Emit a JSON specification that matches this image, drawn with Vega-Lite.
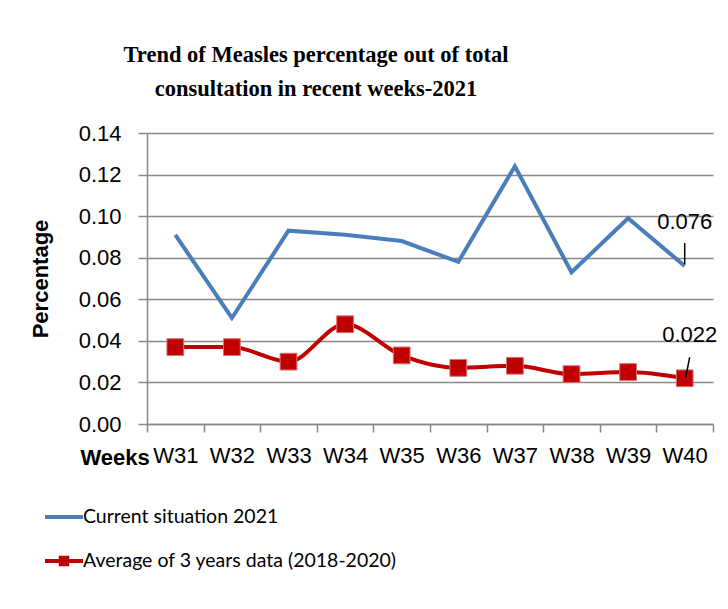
{
  "$schema": "https://vega.github.io/schema/vega-lite/v6.json",
  "autosize": "none",
  "width": 566,
  "height": 291,
  "padding": {"left": 147, "top": 133, "right": 15, "bottom": 185},
  "background": "white",
  "title": {
    "text": ["Trend of Measles percentage out of total", "consultation in recent weeks-2021"],
    "font": "Liberation Serif",
    "fontWeight": "bold",
    "fontSize": 22.5,
    "lineHeight": 34,
    "color": "#000000",
    "anchor": "middle",
    "frame": "group",
    "dx": -114,
    "offset": 22
  },
  "data": {
    "values": [
      {"week": "W31", "series": "Current situation 2021", "value": 0.091},
      {"week": "W32", "series": "Current situation 2021", "value": 0.051},
      {"week": "W33", "series": "Current situation 2021", "value": 0.093},
      {"week": "W34", "series": "Current situation 2021", "value": 0.091},
      {"week": "W35", "series": "Current situation 2021", "value": 0.088},
      {"week": "W36", "series": "Current situation 2021", "value": 0.078},
      {"week": "W37", "series": "Current situation 2021", "value": 0.124},
      {"week": "W38", "series": "Current situation 2021", "value": 0.073},
      {"week": "W39", "series": "Current situation 2021", "value": 0.099},
      {"week": "W40", "series": "Current situation 2021", "value": 0.076},
      {"week": "W31", "series": "Average of 3 years data (2018-2020)", "value": 0.037},
      {"week": "W32", "series": "Average of 3 years data (2018-2020)", "value": 0.037},
      {"week": "W33", "series": "Average of 3 years data (2018-2020)", "value": 0.030},
      {"week": "W34", "series": "Average of 3 years data (2018-2020)", "value": 0.048},
      {"week": "W35", "series": "Average of 3 years data (2018-2020)", "value": 0.033},
      {"week": "W36", "series": "Average of 3 years data (2018-2020)", "value": 0.027},
      {"week": "W37", "series": "Average of 3 years data (2018-2020)", "value": 0.028},
      {"week": "W38", "series": "Average of 3 years data (2018-2020)", "value": 0.024},
      {"week": "W39", "series": "Average of 3 years data (2018-2020)", "value": 0.025},
      {"week": "W40", "series": "Average of 3 years data (2018-2020)", "value": 0.022}
    ]
  },
  "encoding": {
    "x": {
      "field": "week",
      "type": "nominal",
      "scale": {"paddingInner": 0, "paddingOuter": 0},
      "axis": {
        "title": "Weeks",
        "titleFont": "Liberation Sans",
        "titleFontWeight": "bold",
        "titleFontSize": 22,
        "titleColor": "#000000",
        "titleAnchor": "start",
        "titleAlign": "left",
        "titleBaseline": "alphabetic",
        "titleX": -67,
        "titleY": 40,
        "labelAngle": 0,
        "labelFont": "Liberation Sans",
        "labelFontSize": 22,
        "labelColor": "#000000",
        "labelPadding": 13,
        "tickBand": "extent",
        "tickSize": 8,
        "tickColor": "#898989",
        "domainColor": "#898989",
        "domainWidth": 1.5,
        "tickWidth": 1.5
      }
    },
    "y": {
      "field": "value",
      "type": "quantitative",
      "scale": {"domain": [0, 0.14], "nice": false},
      "axis": {
        "title": "Percentage",
        "titleFont": "Liberation Sans",
        "titleFontWeight": "bold",
        "titleFontSize": 22,
        "titleColor": "#000000",
        "titlePadding": 26,
        "values": [0, 0.02, 0.04, 0.06, 0.08, 0.1, 0.12, 0.14],
        "format": ".2f",
        "labelFont": "Liberation Sans",
        "labelFontSize": 22,
        "labelColor": "#000000",
        "labelPadding": 17,
        "tickSize": 9,
        "tickColor": "#898989",
        "tickWidth": 1.5,
        "domainColor": "#898989",
        "domainWidth": 1.5,
        "grid": true,
        "gridColor": "#898989",
        "gridWidth": 1.5
      }
    }
  },
  "layer": [
    {
      "transform": [{"filter": "datum.series === 'Current situation 2021'"}],
      "mark": {"type": "line", "strokeWidth": 4, "strokeJoin": "miter"},
      "encoding": {
        "color": {
          "field": "series",
          "type": "nominal",
          "scale": {"domain": ["Current situation 2021"], "range": ["#4A7EBB"]},
          "legend": {
            "title": null,
            "orient": "none",
            "legendX": -104,
            "legendY": 363,
            "padding": 0,
            "symbolType": "M-1,0H1",
            "symbolSize": 1444,
            "symbolStrokeWidth": 4,
            "symbolStrokeColor": "#4A7EBB",
            "labelFont": "Lato",
            "labelFontSize": 19.5,
            "labelColor": "#000000",
            "labelOffset": -2,
            "labelLimit": 0
          }
        }
      }
    },
    {
      "transform": [{"filter": "datum.series !== 'Current situation 2021'"}],
      "mark": {
        "type": "line",
        "strokeWidth": 4,
        "interpolate": "monotone",
        "point": {"shape": "square", "size": 280, "filled": true, "fill": "#C00000", "stroke": "#D77070", "strokeWidth": 1, "opacity": 1}
      },
      "encoding": {
        "color": {
          "field": "series",
          "type": "nominal",
          "scale": {"domain": ["Average of 3 years data (2018-2020)"], "range": ["#C00000"]},
          "legend": {
            "title": null,
            "orient": "none",
            "legendX": -104,
            "legendY": 407,
            "padding": 0,
            "symbolType": "M-1,0H1M-0.17,-0.17H0.17V0.17H-0.17Z",
            "symbolSize": 1444,
            "symbolStrokeWidth": 4,
            "symbolFillColor": "#C00000",
            "symbolStrokeColor": "#C00000",
            "labelFont": "Lato",
            "labelFontSize": 19.5,
            "labelColor": "#000000",
            "labelOffset": -2,
            "labelLimit": 0
          }
        }
      }
    },
    {
      "transform": [{"filter": "datum.week === 'W40' && datum.series === 'Current situation 2021'"}],
      "mark": {"type": "text", "dy": -37, "font": "Liberation Sans", "fontSize": 22, "color": "#000000", "baseline": "alphabetic"},
      "encoding": {"text": {"field": "value", "type": "quantitative", "format": ".3f"}}
    },
    {
      "transform": [{"filter": "datum.week === 'W40' && datum.series !== 'Current situation 2021'"}],
      "mark": {"type": "text", "dy": -36, "dx": 5, "font": "Liberation Sans", "fontSize": 22, "color": "#000000", "baseline": "alphabetic"},
      "encoding": {"text": {"field": "value", "type": "quantitative", "format": ".3f"}}
    },
    {
      "transform": [{"filter": "datum.week === 'W40' && datum.series === 'Current situation 2021'"}],
      "mark": {"type": "rule", "color": "#000000", "strokeWidth": 1.5, "yOffset": -2, "y2Offset": -23},
      "encoding": {"y2": {"field": "value"}}
    },
    {
      "transform": [{"filter": "datum.week === 'W40' && datum.series !== 'Current situation 2021'"}],
      "mark": {"type": "rule", "color": "#000000", "strokeWidth": 1.5, "xOffset": 1, "yOffset": -1, "x2Offset": 5, "y2Offset": -21},
      "encoding": {"x2": {"field": "week"}, "y2": {"field": "value"}}
    }
  ],
  "resolve": {"scale": {"color": "independent"}},
  "config": {"view": {"stroke": null}}
}
